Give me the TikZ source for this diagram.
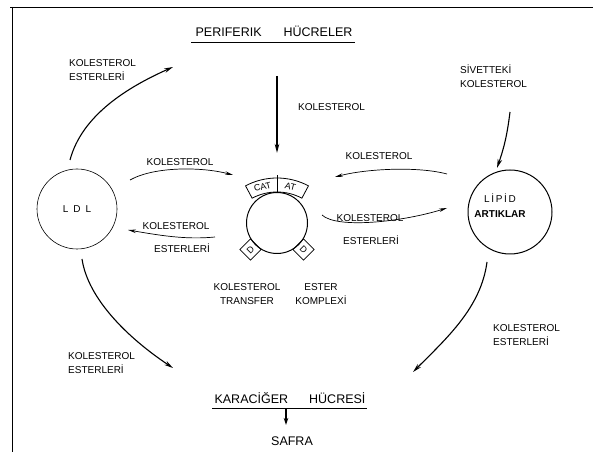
\documentclass[tikz,border=0pt]{standalone}
\usepackage{fontspec}
\setmainfont{Liberation Sans}
\usetikzlibrary{arrows.meta,calc}
\begin{document}
\begin{tikzpicture}[x=1pt,y=1pt,
  lbl/.style={font=\fontsize{10}{14}\selectfont, inner sep=0pt, align=left},
  lblc/.style={font=\fontsize{10}{14}\selectfont, inner sep=0pt, align=center},
  ttl/.style={font=\fontsize{12.5}{14}\selectfont, inner sep=0pt, anchor=base},
  arr/.style={-{Stealth[length=9pt,width=4.5pt]}, line width=1.1pt},
  thinarr/.style={-{Stealth[length=8pt,width=3.5pt]}, line width=0.7pt},
  circ/.style={draw, circle, inner sep=0pt, line width=0.8pt},
  tab/.style={draw, fill=white, minimum size=15pt, inner sep=0pt, line width=0.8pt, font=\fontsize{9}{10}\selectfont},
]
\useasboundingbox (0,0) rectangle (593,452);
% frame
\draw[line width=0.9pt] (10,445) -- (593,445);
\draw[line width=0.9pt] (12,445) -- (12,0);

% titles
\node[ttl] (per) at (274,415) {PERIFERIK\hspace{22pt}HÜCRELER};
\draw[line width=0.9pt] ($(per.base west)+(-4,-5)$) -- ($(per.base east)+(2,-5)$);
\node[ttl] (kar) at (290,49) {KARACİĞER\hspace{21pt}HÜCRESİ};
\draw[line width=0.9pt] ($(kar.base west)+(-2,-5)$) -- ($(kar.base east)+(1,-5)$);
\coordinate (s10) at (286,44);
\node[ttl] (saf) at (292,7) {SAFRA};

% circles
\node[circ, minimum size=80pt, line width=0.6pt, font=\fontsize{10}{12}\selectfont] (ldl) at (77,243) {L\hspace{5pt}D\hspace{5pt}L};
\coordinate (bc) at (277,207);
% band on top of central circle
\draw[line width=0.8pt] ($(bc)+(62:53)$) arc[start angle=62, end angle=118, radius=53]
   -- ($(bc)+(118:67)$) arc[start angle=118, end angle=62, radius=67] -- cycle;
\draw[line width=0.7pt] ($(bc)+(90:53)$) -- ($(bc)+(90:70)$);
\node[font=\fontsize{9}{10}\selectfont, rotate=14, inner sep=0pt] (cat) at ($(bc)+(104:60)$) {CAT};
\node[font=\fontsize{9}{10}\selectfont, rotate=-14, inner sep=0pt] (at) at ($(bc)+(77:60)$) {AT};
\node[tab, rotate=45] (dl) at ($(277,229)+(225:37.5)$) {D};
\node[tab, rotate=-45] (dr) at ($(277,229)+(315:37.5)$) {D};
\node[circ, minimum size=61pt, line width=1pt] (cet) at (277,229) {};

\node[circ, minimum size=84pt, line width=1pt] (lip) at (510,240) {};
\node[lblc, font=\fontsize{10}{15}\selectfont] (lipt) at (500,246) {L\,İ\,P\,İ\,D\\\textbf{ARTIKLAR}};

% labels
\node[lbl, anchor=west] (l1) at (69,382) {KOLESTEROL\\ESTERLERİ};
\node[lbl, anchor=west] (l2) at (298,345) {KOLESTEROL};
\node[lbl, anchor=west] (l3) at (460,376) {SİVETTEKİ\\KOLESTEROL};
\node[lblc] (l4) at (180,290) {KOLESTEROL};
\node[lblc] (l5) at (379,296) {KOLESTEROL};
\node[lblc] (l6a) at (370,234) {KOLESTEROL};
\node[lblc] (l6b) at (371,212) {ESTERLERİ};
\node[lblc] (l7a) at (176,226) {KOLESTEROL};
\node[lblc] (l7b) at (182,204) {ESTERLERİ};
\node[lblc] (l8) at (247,158) {KOLESTEROL\\TRANSFER};
\node[lblc] (l9) at (321,158) {ESTER\\KOMPLEXİ};
\node[lbl, anchor=west] (l10) at (68,89) {KOLESTEROL\\ESTERLERİ};
\node[lbl, anchor=west] (l11) at (493,117) {KOLESTEROL\\ESTERLERİ};

% connector end points
\coordinate (s1) at (70,292);  \coordinate (e1) at (173,385);
\coordinate (s2) at (277,376); \coordinate (e2) at (277,299);
\coordinate (s3) at (510,340); \coordinate (e3) at (497,284);
\coordinate (s4) at (130,272); \coordinate (e4) at (233,277);
\coordinate (s5) at (447,278); \coordinate (e5) at (335,275);
\coordinate (s6) at (322,237); \coordinate (e6) at (447,244);
\coordinate (s7) at (215,215); \coordinate (e7) at (128,222);
\coordinate (s8) at (82,193);  \coordinate (e8) at (173,84);
\coordinate (s9) at (487,190); \coordinate (e9) at (413,80);
\coordinate (e10) at (286,27);

% connectors
\draw[arr] (s1) .. controls +(12,45) and +(-45,-20) .. (e1);
\draw[arr, line width=1.6pt] (s2) -- (e2);
\draw[arr] (s3) to[bend left=6] (e3);
\draw[thinarr] (s4) .. controls +(25,14) and +(-30,8) .. (e4);
\draw[thinarr] (s5) .. controls +(-30,8) and +(30,8) .. (e5);
\draw[thinarr] (s6) .. controls +(15,-14) and +(-45,-14) .. (e6);
\draw[thinarr] (s7) .. controls +(-30,-3) and +(30,-5) .. (e7);
\draw[arr] (s8) .. controls +(6,-40) and +(-45,30) .. (e8);
\draw[arr] (s9) .. controls +(-6,-45) and +(35,35) .. (e9);
\draw[line width=1.2pt, -{Stealth[length=7pt,width=4.5pt]}] (s10) -- (e10);
\end{tikzpicture}
\end{document}
